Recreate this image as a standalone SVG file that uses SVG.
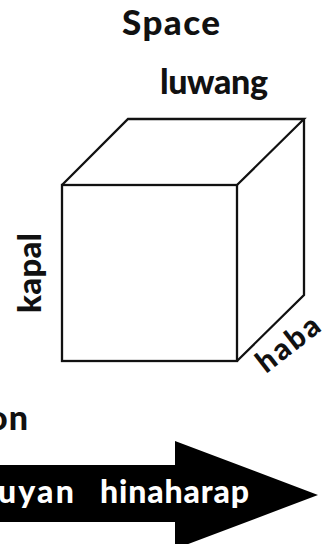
<svg xmlns="http://www.w3.org/2000/svg" width="324" height="544" viewBox="0 0 324 544">
<style>
.t{font-family:Lato,"Open Sans","Liberation Sans",sans-serif;font-weight:900;fill:#111}
.w{fill:#fff}
.e{fill:none;stroke:#111;stroke-width:2.3;stroke-linejoin:miter}
</style>
<rect width="324" height="544" fill="#fff"/>
<text class="t" x="122" y="35" font-size="35" textLength="98" lengthAdjust="spacing">Space</text>
<g id="cube">
<rect class="e" x="62" y="185" width="175" height="176"/>
<path class="e" d="M62 185 L128 119 L304 119 L237 185 M304 119 L304 295 L237 361"/>
</g>
<g id="luwang"><text class="t" x="160" y="94" font-size="34" textLength="108" lengthAdjust="spacing">luwang</text></g>
<g id="kapal"><text class="t" font-size="33" transform="translate(41 313) rotate(-90)" textLength="80" lengthAdjust="spacing">kapal</text></g>
<g id="haba"><text class="t" font-size="30" transform="translate(266 374) rotate(-38)" textLength="72" lengthAdjust="spacing">haba</text></g>
<text class="t" x="29" y="430" font-size="34" text-anchor="end" letter-spacing="1">on</text>
<g id="arrow">
<path d="M0 465 H175 V441 L318 495 L175 549 V522 H0 Z" fill="#000"/>
<text class="t w" x="76" y="503" font-size="32" text-anchor="end" letter-spacing="2.2">kuyan</text>
<text class="t w" x="100" y="503" font-size="32" textLength="149" lengthAdjust="spacing">hinaharap</text>
</g>
</svg>
